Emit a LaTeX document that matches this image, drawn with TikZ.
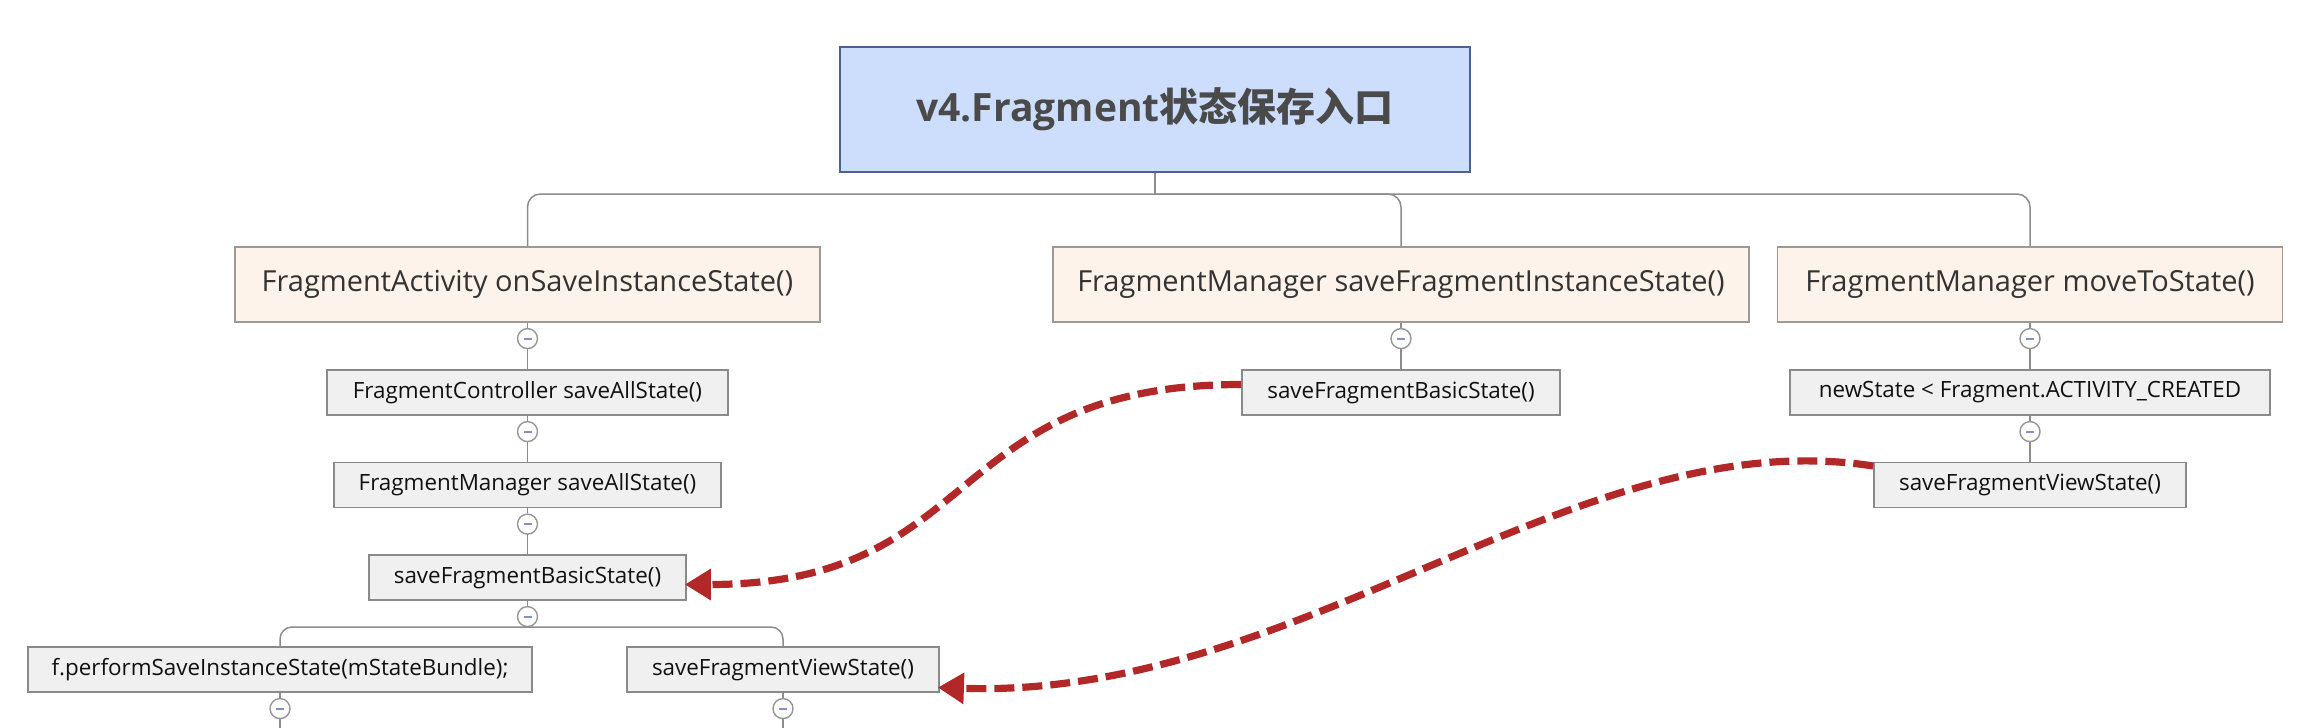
\documentclass[tikz,border=0pt]{standalone}
\usepackage{fontspec}
\setmainfont{Open Sans}
\newfontfamily\cjk{Noto Sans CJK SC}
\usepackage{tikz}
\usetikzlibrary{positioning,arrows.meta,calc}

\definecolor{rootfill}{RGB}{204,222,252}
\definecolor{rootline}{RGB}{74,98,145}
\definecolor{roottext}{RGB}{74,74,74}
\definecolor{topicfill}{RGB}{254,243,234}
\definecolor{topicline}{RGB}{160,152,146}
\definecolor{topictext}{RGB}{51,51,51}
\definecolor{subfill}{RGB}{240,240,240}
\definecolor{subline}{RGB}{138,138,138}
\definecolor{subtext}{RGB}{17,17,17}
\definecolor{branchline}{RGB}{140,140,140}
\definecolor{foldline}{RGB}{150,150,150}
\definecolor{foldmark}{RGB}{130,145,200}
\definecolor{relred}{RGB}{178,40,40}

\tikzset{
  rootbox/.style={draw=rootline, fill=rootfill, line width=1pt, minimum width=315pt, minimum height=62.5pt, text=roottext, font=\bfseries\fontsize{19.5}{20}\selectfont},
  topicbox/.style={draw=topicline, fill=topicfill, line width=0.9pt, minimum height=37.5pt, text=topictext, font=\fontsize{14.5}{16}\selectfont},
  subbox/.style={draw=subline, fill=subfill, line width=0.9pt, minimum height=22.5pt, text=subtext, font=\fontsize{11.2}{13}\selectfont},
  fold/.style={circle, draw=foldline, fill=white, line width=0.7pt, minimum size=10pt, inner sep=0pt,
    path picture={\draw[foldmark, line width=0.9pt] ([xshift=-2pt]path picture bounding box.center) -- ([xshift=2pt]path picture bounding box.center);}},
  branch/.style={draw=branchline, line width=0.75pt},
  relation/.style={draw=relred, line width=3.6pt, dash pattern=on 10pt off 4pt, -{Triangle[length=13pt,width=15pt]}}
}

\begin{document}
\begin{tikzpicture}[x=0.5pt,y=-0.5pt]
    \useasboundingbox (0,0) rectangle (2318,728);
    % root and first level
    \node[rootbox] (root) at (1155,109.5) {v4.Fragment{\cjk 状态保存入口}};
    \node[topicbox, minimum width=292.5pt] (act) at (527.5,284.5) {FragmentActivity onSaveInstanceState()};
    \node[topicbox, minimum width=348pt] (inst) at (1401,284.5) {FragmentManager saveFragmentInstanceState()};
    \node[topicbox, minimum width=252.5pt] (move) at (2030,284.5) {FragmentManager moveToState()};
    \coordinate (rootsplit) at (1155,194);
    \draw[branch] (root) -- (rootsplit);
    \draw[branch, rounded corners=6.5pt] (rootsplit) -| (act);
    \draw[branch, rounded corners=6.5pt] (rootsplit) -| (inst);
    \draw[branch, rounded corners=6.5pt] (rootsplit) -| (move);

    % left column
    \node[subbox, minimum width=200.5pt] (ctrlall) at (527.5,392.5) {FragmentController saveAllState()};
    \node[subbox, minimum width=193.5pt] (mgrall) at (527.5,485) {FragmentManager saveAllState()};
    \node[subbox, minimum width=158.5pt] (basic) at (527.5,577.5) {saveFragmentBasicState()};
    \node[subbox, minimum width=252pt] (perform) at (280,669.5) {f.performSaveInstanceState(mStateBundle);};
    \node[subbox, minimum width=156pt] (view) at (783,669.5) {saveFragmentViewState()};
    \node[fold, below=2.5pt of act] (actfold) {};
    \node[fold, below=2.5pt of ctrlall] (ctrlfold) {};
    \node[fold, below=2.5pt of mgrall] (mgrfold) {};
    \node[fold, below=2.5pt of basic] (basicfold) {};
    \node[fold, below=2.5pt of perform] (performfold) {};
    \node[fold, below=2.5pt of view] (viewfold) {};
    \draw[branch] (act) -- (actfold) -- (ctrlall);
    \draw[branch] (ctrlall) -- (ctrlfold) -- (mgrall);
    \draw[branch] (mgrall) -- (mgrfold) -- (basic);
    \coordinate (basicsplit) at (527.5,627);
    \draw[branch] (basic) -- (basicfold) -- (basicsplit);
    \draw[branch, rounded corners=6pt] (basicsplit) -| (perform);
    \draw[branch, rounded corners=6pt] (basicsplit) -| (view);
    \coordinate (performend) at (280,740);
    \coordinate (viewend) at (783,740);
    \draw[branch] (perform) -- (performfold) -- (performend);
    \draw[branch] (view) -- (viewfold) -- (viewend);

    % middle column
    \node[subbox, minimum width=159pt] (instbasic) at (1401,392.5) {saveFragmentBasicState()};
    \node[fold, below=2.5pt of inst] (instfold) {};
    \draw[branch] (inst) -- (instfold) -- (instbasic);

    % right column
    \node[subbox, minimum width=240pt] (newstate) at (2030,392.5) {newState < Fragment.ACTIVITY\_CREATED};
    \node[subbox, minimum width=156pt] (moveview) at (2030,485) {saveFragmentViewState()};
    \node[fold, below=2.5pt of move] (movefold) {};
    \node[fold, below=2.5pt of newstate] (newfold) {};
    \draw[branch] (move) -- (movefold) -- (newstate);
    \draw[branch] (newstate) -- (newfold) -- (moveview);

    % relations
    \draw[relation] ($(instbasic.west)+(0,-8)$) .. controls +(-300,0) and +(300,0) .. ($(basic.east)+(-2,7)$);
    \draw[relation] ($(moveview.west)+(0,-19)$) .. controls +(-295,-46) and +(364,12) .. ($(view.east)+(-2,18)$);
\end{tikzpicture}
\end{document}
